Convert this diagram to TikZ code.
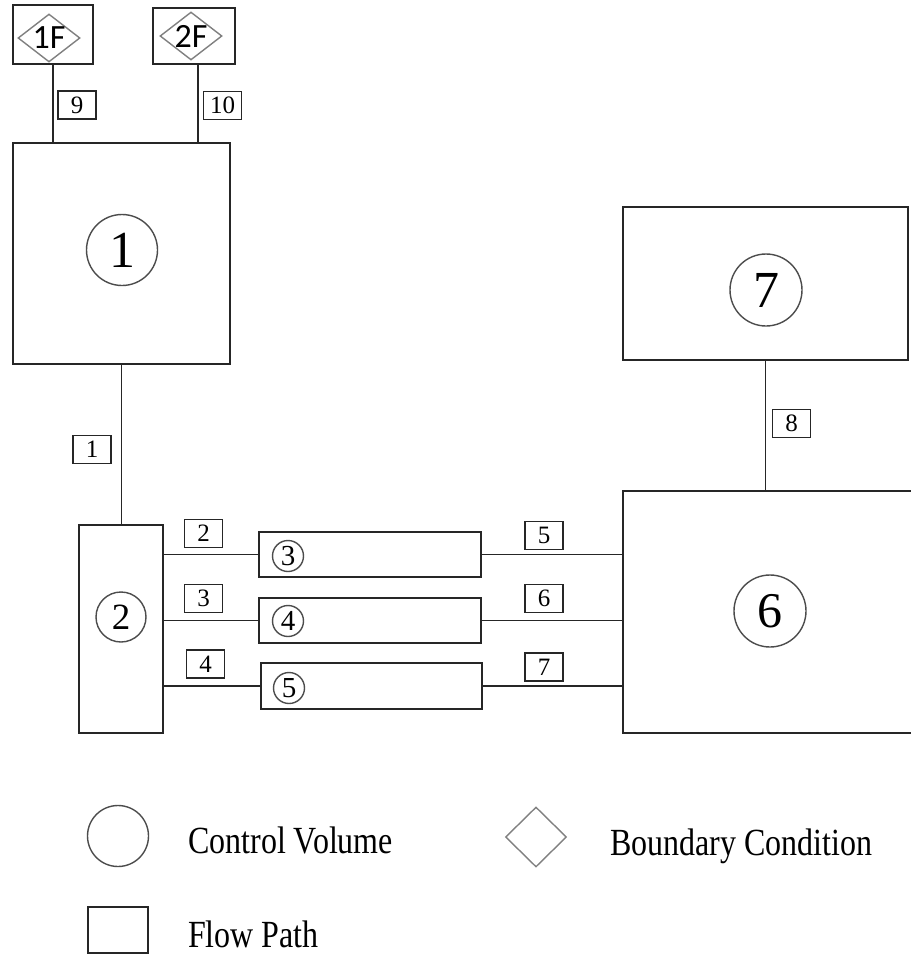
\documentclass[tikz,border=0pt]{standalone}
\usepackage{fontspec}
\setmainfont{Liberation Serif}
\newfontfamily\calib{Carlito}
\usetikzlibrary{shapes.geometric}
\begin{document}
\begin{tikzpicture}[x=1pt,y=-1pt,
 box/.style={draw=black!85, line width=2.2pt, rectangle, inner sep=0pt},
 fp/.style={draw=black!85, line width=1.8pt, rectangle, inner sep=0pt, minimum width=38pt, minimum height=28pt, font=\fontsize{25}{25}\selectfont},
 cv/.style={draw=black!70, line width=1.4pt, circle, inner sep=0pt},
 bcd/.style={draw=black!50, line width=1.4pt, diamond, inner sep=0pt, minimum width=62pt, minimum height=48pt},
 conn/.style={draw=black!85, line width=1.9pt},
 legtext/.style={anchor=base west, inner sep=0pt}]
\fill[white] (0,0) rectangle (910,958);
\useasboundingbox (0,0) rectangle (910,958);

% boundary conditions
\node[box, minimum width=80pt, minimum height=59pt] (bc1) at (53,34.5) {};
\node[bcd] (d1) at (49,38) {};
\node[font=\calib\fontsize{34}{34}\selectfont, inner sep=0pt] (t1) at (49,38) {1F};
\node[box, minimum width=82pt, minimum height=56pt] (bc2) at (194,36) {};
\node[bcd] (d2) at (191,36) {};
\node[font=\calib\fontsize{34}{34}\selectfont, inner sep=0pt] (t2) at (191,36) {2F};

% control volumes
\node[box, minimum width=217pt, minimum height=221pt] (cv1) at (121.5,253.5) {};
\node[cv, minimum size=71pt, font=\fontsize{52}{52}\selectfont] (c1) at (122,250) {1};
\node[box, minimum width=84pt, minimum height=208pt] (cv2) at (121,629) {};
\node[cv, minimum size=50pt, font=\fontsize{37}{37}\selectfont] (c2) at (121,617) {2};
\node[box, minimum width=222pt, minimum height=45pt] (p3) at (370,554.5) {};
\node[cv, minimum size=31pt, font=\fontsize{29}{29}\selectfont] (c3) at (288,556) {3};
\node[box, minimum width=222pt, minimum height=45pt] (p4) at (370,620.5) {};
\node[cv, minimum size=31pt, font=\fontsize{29}{29}\selectfont] (c4) at (288,621) {4};
\node[box, minimum width=221pt, minimum height=46pt] (p5) at (371.5,686) {};
\node[cv, minimum size=31pt, font=\fontsize{29}{29}\selectfont] (c5) at (289,688) {5};
\node[rectangle, inner sep=0pt, minimum width=290pt, minimum height=242pt] (cv6) at (768,612) {};
\draw[line width=2.2pt, draw=black!85] (cv6.north east) -- (cv6.north west) -- (cv6.south west) -- (cv6.south east);
\node[cv, minimum size=72pt, font=\fontsize{50}{50}\selectfont] (c6) at (770,611) {6};
\node[box, minimum width=285pt, minimum height=153pt] (cv7) at (765.5,283.5) {};
\node[cv, minimum size=72pt, font=\fontsize{52}{52}\selectfont] (c7) at (766,290) {7};

% connectors
\draw[conn] (bc1.south) -- (bc1.south |- cv1.north);
\draw[conn] ([xshift=4pt]bc2.south) -- ([xshift=4pt]bc2.south |- cv1.north);
\draw[conn] (cv1.south) -- (cv1.south |- cv2.north);
\draw[conn] (p3.west -| cv2.east) -- (p3.west);
\draw[conn] (p4.west -| cv2.east) -- (p4.west);
\draw[conn] (p5.west -| cv2.east) -- (p5.west);
\draw[conn] (p3.east) -- (p3.east -| cv6.west);
\draw[conn] (p4.east) -- (p4.east -| cv6.west);
\draw[conn] (p5.east) -- (p5.east -| cv6.west);
\draw[conn] (cv7.south) -- (cv7.south |- cv6.north);

% flow path labels
\node[fp] (f9) at (77,105) {9};
\node[fp] (f10) at (222.5,105.5) {10};
\node[fp] (f1) at (92,449.5) {1};
\node[fp] (f2) at (203.5,533.5) {2};
\node[fp] (f3) at (203.5,598.5) {3};
\node[fp] (f4) at (205.5,664) {4};
\node[fp] (f5) at (544,535.5) {5};
\node[fp] (f6) at (544,598.5) {6};
\node[fp] (f7) at (544,667) {7};
\node[fp] (f8) at (791.5,423.5) {8};

% legend
\node[cv, minimum size=61pt] (lc) at (118,836) {};
\node[legtext] (lct) at (188,853) {\scalebox{1}[1.2]{\fontsize{32}{32}\selectfont Control Volume}};
\node[draw=black!50, line width=1.4pt, diamond, inner sep=0pt, minimum width=61pt, minimum height=60pt] (ld) at (536,837) {};
\node[legtext] (ldt) at (610,855) {\scalebox{1}[1.2]{\fontsize{32}{32}\selectfont Boundary Condition}};
\node[box, minimum width=60pt, minimum height=46pt] (ls) at (118,930) {};
\node[legtext] (lst) at (188,947) {\scalebox{1}[1.2]{\fontsize{32}{32}\selectfont Flow Path}};
\end{tikzpicture}
\end{document}
